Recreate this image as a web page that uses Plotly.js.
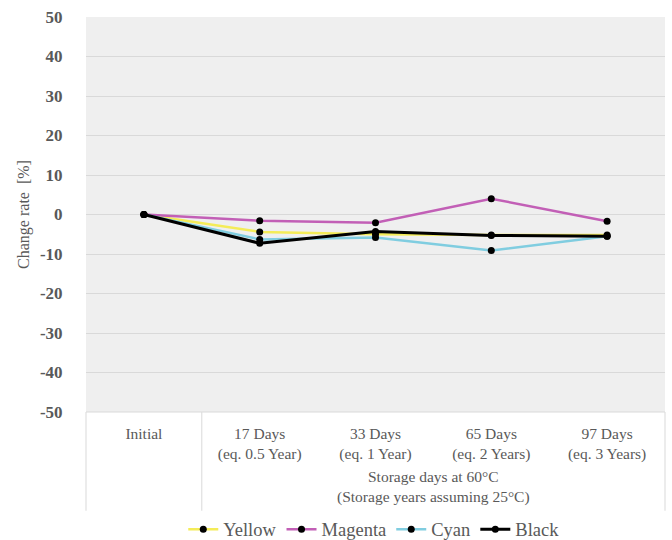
<!DOCTYPE html>
<html>
<head>
<meta charset="utf-8">
<script src="https://cdn.plot.ly/plotly-3.0.1.min.js"></script>
<style>html,body{margin:0;padding:0;background:#fff;}#chart{width:672px;height:540px;}</style>
</head>
<body>
<div id="chart"></div>
<script>
var categories = ["Initial", "17 Days", "33 Days", "65 Days", "97 Days"];
var tickLabels = ["Initial", "17 Days<br>(eq. 0.5 Year)", "33 Days<br>(eq. 1 Year)", "65 Days<br>(eq. 2 Years)", "97 Days<br>(eq. 3 Years)"];
var groupLabel = "Storage days at 60°C<br>(Storage years assuming 25°C)";
var yTickVals = [-50, -40, -30, -20, -10, 0, 10, 20, 30, 40, 50];
var yTickText = ["-50", "-40", "-30", "-20", "-10", "0", "10", "20", "30", "40", "50"];
var yellow  = [0, -4.4, -5.0, -5.2, -5.2];
var magenta = [0, -1.6, -2.1, 4.0, -1.7];
var cyan    = [0, -6.3, -5.8, -9.1, -5.5];
var black   = [0, -7.3, -4.3, -5.3, -5.5];

var serif = "Times New Roman, Liberation Serif, DejaVu Serif, serif";
function tr(name, y, color, w) {
  return {x: categories, y: y, name: name, type: "scatter", mode: "lines+markers",
    line: {color: color, width: w}, marker: {color: "#000", size: 7}};
}
var data = [
  tr("Yellow", yellow, "#f4ec58", 2.5),
  tr("Magenta", magenta, "#c25fb6", 2.5),
  tr("Cyan", cyan, "#80cde0", 2.5),
  tr("Black", black, "#000000", 3)
];
var layout = {
  width: 672, height: 540,
  margin: {l: 86, r: 7, t: 17, b: 128, autoexpand: false},
  paper_bgcolor: "#fff", plot_bgcolor: "#efefef",
  font: {family: serif, color: "#595959", size: 14},
  showlegend: true,
  legend: {orientation: "h", x: 0.497, xanchor: "center", y: -0.298, yanchor: "middle",
    font: {family: serif, size: 18.5, color: "#595959"}, itemwidth: 30},
  xaxis: {type: "category", range: [-0.5, 4.5], tickmode: "array", tickvals: categories, ticktext: tickLabels,
    showgrid: false, zeroline: false, showline: false, ticks: "outside", ticklen: 7, tickcolor: "rgba(0,0,0,0)",
    tickfont: {family: serif, size: 15.5, color: "#595959"}},
  yaxis: {range: [-50, 50], tickmode: "array", tickvals: yTickVals, ticktext: yTickText,
    showgrid: true, gridcolor: "#d9d9d9", gridwidth: 1,
    zeroline: false, showline: false, ticks: "outside", ticklen: 19, tickcolor: "rgba(0,0,0,0)",
    tickfont: {family: serif, size: 17, color: "#595959", weight: "bold"},
    title: {text: "Change rate  [%]", font: {family: serif, size: 16, color: "#595959"}, standoff: 6}},
  annotations: [{xref: "paper", yref: "paper", x: 0.6, y: -0.191, yanchor: "middle", showarrow: false,
    text: groupLabel, font: {family: serif, size: 15.5, color: "#595959"}}],
  shapes: [
    {type: "line", xref: "paper", yref: "paper", x0: 0, x1: 0, y0: 0, y1: -0.25, line: {color: "#d9d9d9", width: 1}},
    {type: "line", xref: "paper", yref: "paper", x0: 0.2, x1: 0.2, y0: 0, y1: -0.25, line: {color: "#d9d9d9", width: 1}},
    {type: "line", xref: "paper", yref: "paper", x0: 1, x1: 1, y0: 0, y1: -0.25, line: {color: "#d9d9d9", width: 1}},
    {type: "line", xref: "paper", yref: "paper", x0: 0, x1: 1, y0: 0, y1: 0, line: {color: "#d9d9d9", width: 1}}
  ]
};
Plotly.newPlot("chart", data, layout, {displayModeBar: false});
</script>
</body>
</html>
